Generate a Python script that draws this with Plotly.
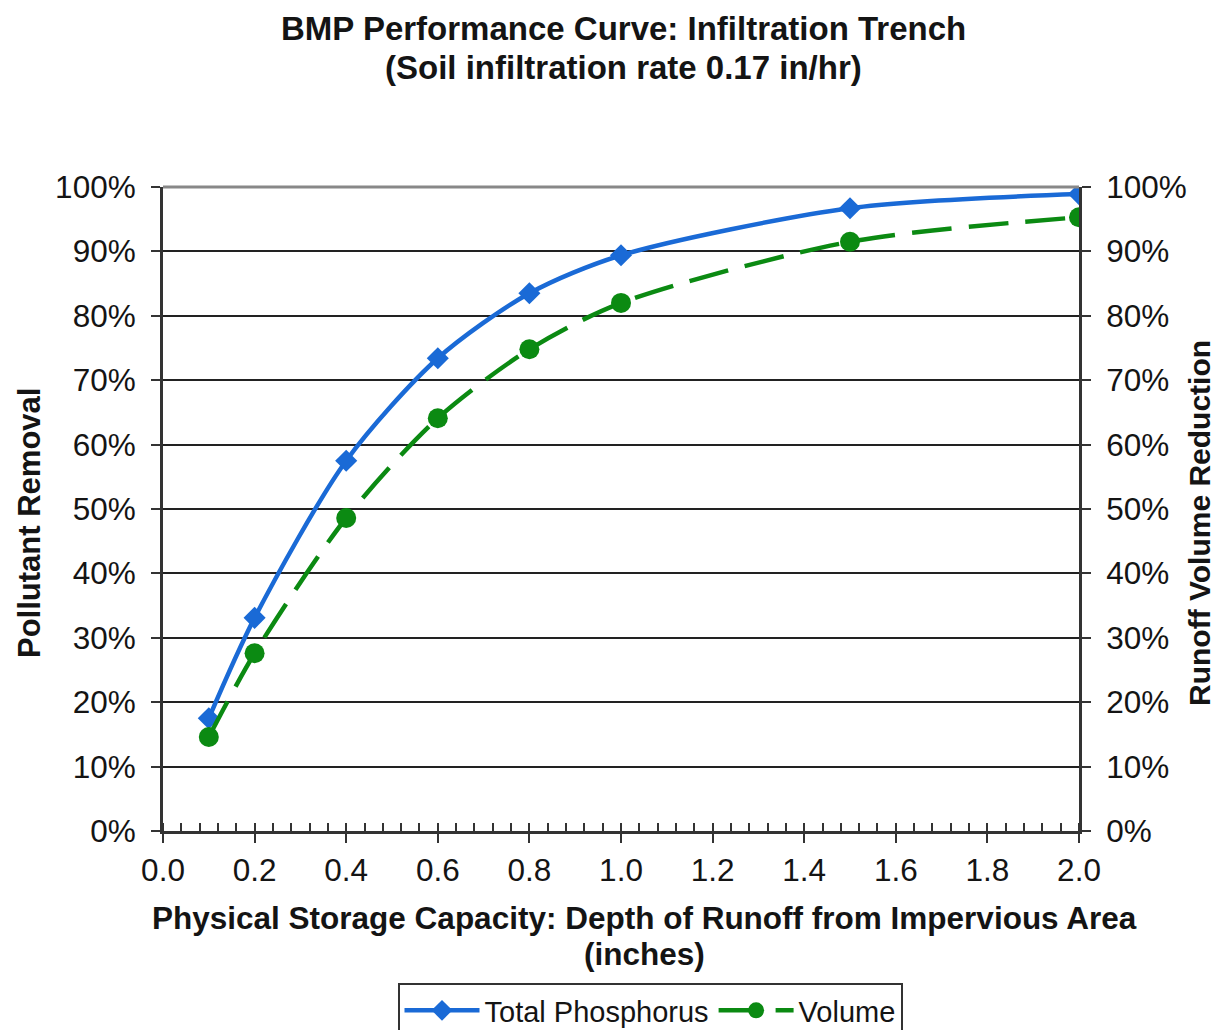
import plotly.graph_objects as go

depth = [0.1, 0.2, 0.4, 0.6, 0.8, 1.0, 1.5, 2.0]
total_phosphorus = [0.175, 0.331, 0.575, 0.734, 0.835, 0.894, 0.967, 0.989]
volume = [0.146, 0.276, 0.486, 0.641, 0.748, 0.820, 0.915, 0.953]

x_ticks = [0.0, 0.2, 0.4, 0.6, 0.8, 1.0, 1.2, 1.4, 1.6, 1.8, 2.0]
x_tick_labels = ["0.0", "0.2", "0.4", "0.6", "0.8", "1.0", "1.2", "1.4", "1.6", "1.8", "2.0"]
y_ticks = [0, 0.1, 0.2, 0.3, 0.4, 0.5, 0.6, 0.7, 0.8, 0.9, 1.0]
y_tick_labels = ["0%", "10%", "20%", "30%", "40%", "50%", "60%", "70%", "80%", "90%", "100%"]

FONT = "Liberation Sans, Arial, sans-serif"
BLUE = "#1A6AD6"
GREEN = "#0B8A12"
TXT = "#141414"

# plot area in target pixels (body margin of ~7px compensated)
PL, PT, PW, PH = 162, 186, 916, 644
OFF_X, OFF_Y = 7, 7


def px(x):
    return (x - PL) / PW


def py(y):
    return (PT + PH - y) / PH


fig = go.Figure()
fig.add_trace(go.Scatter(
    x=depth, y=total_phosphorus, name="Total Phosphorus",
    mode="lines+markers", line=dict(color=BLUE, width=4.5, shape="spline", smoothing=0.8),
    marker=dict(symbol="diamond", size=17, color=BLUE), yaxis="y"))
fig.add_trace(go.Scatter(
    x=depth, y=volume, name="Volume",
    mode="lines+markers", line=dict(color=GREEN, width=4.5, shape="spline", smoothing=0.8, dash="40px,17px"),
    marker=dict(symbol="circle", size=20, color=GREEN), yaxis="y2"))

axis_common = dict(range=[0, 1.0], tickvals=y_ticks, ticktext=y_tick_labels,
                   tickfont=dict(family=FONT, size=31.5, color=TXT),
                   ticks="outside", ticklen=9, tickcolor="#333", tickwidth=2,
                   ticklabelstandoff=9,
                   showline=True, linecolor="#333", linewidth=3, zeroline=False)

l = PL - OFF_X
t = PT - OFF_Y
fig.update_layout(
    width=1219, height=1030,
    paper_bgcolor="white", plot_bgcolor="white",
    margin=dict(l=l, r=1219 - l - PW, t=t, b=1030 - t - PH, autoexpand=False),
    xaxis=dict(range=[0, 2.0], tickvals=x_ticks, ticktext=x_tick_labels,
               tickfont=dict(family=FONT, size=31.5, color=TXT),
               ticks="outside", ticklen=9, tickcolor="#333", tickwidth=2,
               minor=dict(dtick=0.04, ticks="inside", ticklen=8, tickcolor="#333", tickwidth=2, showgrid=False),
               showline=True, linecolor="#333", linewidth=3, showgrid=False, zeroline=False,
               mirror=False),
    yaxis=dict(**axis_common, showgrid=True, gridcolor="#222", gridwidth=1.5, side="left"),
    yaxis2=dict(**axis_common, overlaying="y", side="right", showgrid=False),
    legend=dict(orientation="h", x=px(649), xanchor="center", y=py(982), yanchor="top",
                bordercolor="#333", borderwidth=2, bgcolor="white",
                font=dict(family=FONT, size=29, color=TXT),
                itemwidth=75),
    showlegend=True,
)

# top border of plot area (gray)
fig.add_shape(type="line", xref="paper", yref="paper", x0=0, x1=1, y0=1, y1=1,
              line=dict(color="#888", width=3))

title_lines = [("<b>BMP Performance Curve: Infiltration Trench</b>", 622, 28),
               ("<b>(Soil infiltration rate 0.17 in/hr)</b>", 622, 66)]
for text, cx, cy in title_lines:
    fig.add_annotation(text=text, xref="paper", yref="paper", x=px(cx), y=py(cy),
                       xanchor="center", yanchor="middle", showarrow=False,
                       font=dict(family=FONT, size=33, color=TXT))

xtitle_lines = [("<b>Physical Storage Capacity: Depth of Runoff from Impervious Area</b>", 643, 917),
                ("<b>(inches)</b>", 643, 953)]
for text, cx, cy in xtitle_lines:
    fig.add_annotation(text=text, xref="paper", yref="paper", x=px(cx), y=py(cy),
                       xanchor="center", yanchor="middle", showarrow=False,
                       font=dict(family=FONT, size=31.5, color=TXT))

fig.add_annotation(text="<b>Pollutant Removal</b>", xref="paper", yref="paper",
                   x=px(28), y=py(522), textangle=-90, showarrow=False,
                   xanchor="center", yanchor="middle",
                   font=dict(family=FONT, size=31, color=TXT))
fig.add_annotation(text="<b>Runoff Volume Reduction</b>", xref="paper", yref="paper",
                   x=px(1198), y=py(522), textangle=-90, showarrow=False,
                   xanchor="center", yanchor="middle",
                   font=dict(family=FONT, size=30, color=TXT))

fig.write_html("out.html")
